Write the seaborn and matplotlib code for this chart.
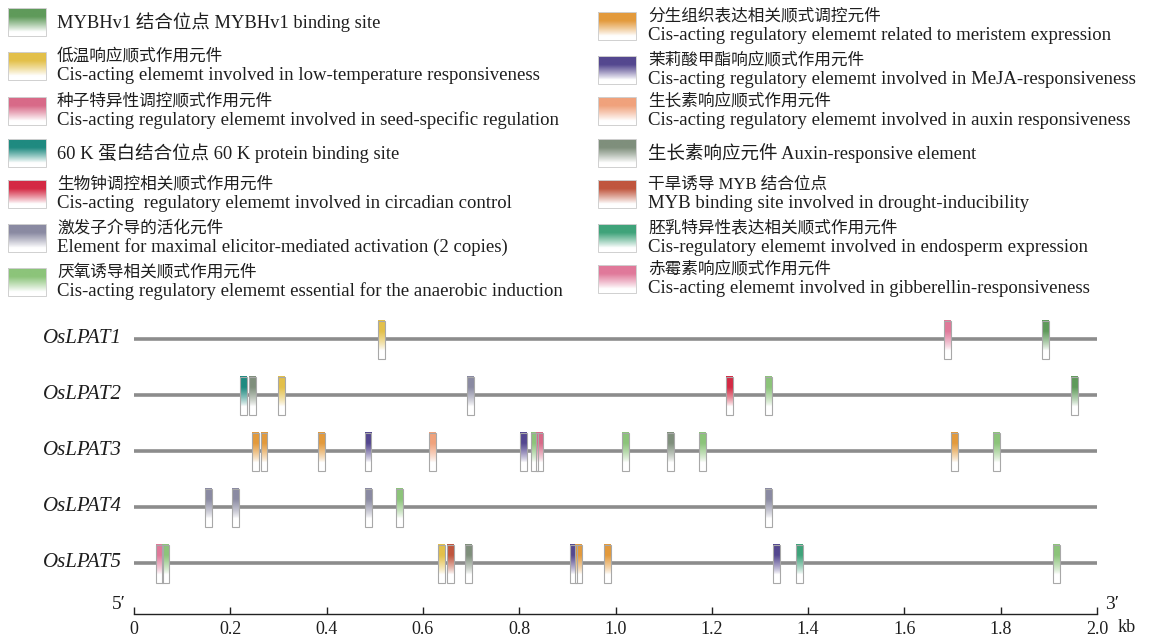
import numpy as np
import pandas as pd
import matplotlib
matplotlib.use("Agg")
import matplotlib.pyplot as plt
from matplotlib.colors import LinearSegmentedColormap
from matplotlib.patches import Rectangle
import seaborn as sns

# cis-element types (legend order: left column 0-6, right column 7-13)
element_cn = ["MYBHv1 结合位点", "低温响应顺式作用元件", "种子特异性调控顺式作用元件",
              "60 K 蛋白结合位点", "生物钟调控相关顺式作用元件", "激发子介导的活化元件",
              "厌氧诱导相关顺式作用元件", "分生组织表达相关顺式调控元件", "茉莉酸甲酯响应顺式作用元件",
              "生长素响应顺式作用元件", "生长素响应元件", "干旱诱导 MYB 结合位点",
              "胚乳特异性表达相关顺式作用元件", "赤霉素响应顺式作用元件"]
element_en = ["MYBHv1 binding site",
              "Cis-acting elememt involved in low-temperature responsiveness",
              "Cis-acting regulatory elememt involved in seed-specific regulation",
              "60 K protein binding site",
              "Cis-acting  regulatory elememt involved in circadian control",
              "Element for maximal elicitor-mediated activation (2 copies)",
              "Cis-acting regulatory elememt essential for the anaerobic induction",
              "Cis-acting regulatory elememt related to meristem expression",
              "Cis-acting regulatory elememt involved in MeJA-responsiveness",
              "Cis-acting regulatory elememt involved in auxin responsiveness",
              "Auxin-responsive element",
              "MYB binding site involved in drought-inducibility",
              "Cis-regulatory elememt involved in endosperm expression",
              "Cis-acting elememt involved in gibberellin-responsiveness"]
one_line = [True, False, False, True, False, False, False,
            False, False, False, True, False, False, False]
element_colors = ["#5f9a5a", "#e3c04a", "#d86a88", "#1f8a80", "#d42a44", "#8a8aa2",
                  "#8cc47a", "#e39a3c", "#54478f", "#f0a27c", "#7f8f7c", "#c0563e",
                  "#3fa37a", "#e0799a"]

genes = ["OsLPAT1", "OsLPAT2", "OsLPAT3", "OsLPAT4", "OsLPAT5"]
gene_len = 2.0  # kb

lpat1_pos = [0.515, 1.690, 1.894]
lpat1_type = [1, 13, 0]
lpat2_pos = [0.228, 0.247, 0.307, 0.698, 1.236, 1.317, 1.954]
lpat2_type = [3, 10, 1, 5, 4, 6, 0]
lpat3_pos = [0.253, 0.270, 0.390, 0.486, 0.620, 0.808, 0.831, 0.843,
             1.021, 1.115, 1.180, 1.705, 1.792]
lpat3_type = [7, 7, 7, 8, 9, 8, 6, 2, 6, 10, 6, 7, 6]
lpat4_pos = [0.154, 0.210, 0.488, 0.552, 1.317]
lpat4_type = [5, 5, 5, 6, 5]
lpat5_pos = [0.052, 0.066, 0.639, 0.658, 0.694, 0.912, 0.924, 0.984,
             1.334, 1.382, 1.915]
lpat5_type = [13, 6, 1, 11, 10, 8, 7, 7, 8, 12, 6]

site_pos = [lpat1_pos, lpat2_pos, lpat3_pos, lpat4_pos, lpat5_pos]
site_type = [lpat1_type, lpat2_type, lpat3_type, lpat4_type, lpat5_type]

sns.set_style("white")
plt.rcParams['font.family'] = ['Liberation Serif', 'Noto Sans CJK SC', 'DejaVu Serif']
text_color = "#1e1e1e"

W, H = 1160, 643
fig = plt.figure(figsize=(W / 100, H / 100), dpi=100)

# gradient: full colour at top, fading to white towards the bottom
t = np.linspace(0, 1, 60)
grad_bar = (np.clip((0.78 - t) / 0.5, 0, 1) ** 0.8)[:, None]
grad_sw = (np.clip((0.85 - t) / 0.55, 0, 1) ** 0.9)[:, None]
cmaps = [LinearSegmentedColormap.from_list("c%d" % i, ["white", c])
         for i, c in enumerate(element_colors)]

# ---- legend (pixel coordinates) ----
lax = fig.add_axes([0, 0, 1, 1])
lax.set_xlim(0, W)
lax.set_ylim(H, 0)
lax.axis("off")

left_y = [22, 66, 111, 153, 194, 238, 282]
right_y = [26, 70, 111, 153, 194, 238, 279]
for i in range(14):
    if i < 7:
        cy, sx, tx = left_y[i], 8, 57
    else:
        cy, sx, tx = right_y[i - 7], 598, 648
    lax.imshow(grad_sw, cmap=cmaps[i], vmin=0, vmax=1, aspect="auto",
               interpolation="bilinear", extent=(sx, sx + 38, cy + 14, cy - 14))
    lax.add_patch(Rectangle((sx, cy - 14), 38, 28, fill=False,
                            edgecolor="#d0d0d0", lw=0.7))
    if one_line[i]:
        txt = element_cn[i] + " " + element_en[i]
        lax.text(tx, cy, txt, fontsize=13.3, va="center", ha="left", color=text_color)
    else:
        lax.text(tx, cy - 9.5, element_cn[i], fontsize=12, va="center", ha="left",
                 color=text_color)
        lax.text(tx, cy + 9.5, element_en[i], fontsize=13.5, va="center", ha="left",
                 color=text_color)
lax.set_xlim(0, W)
lax.set_ylim(H, 0)

# ---- gene map ----
x0_px, x1_px, bot_px, top_px = 134, 1097, 614, 311
ax = fig.add_axes([x0_px / W, 1 - bot_px / H, (x1_px - x0_px) / W, (bot_px - top_px) / H])
ax.patch.set_alpha(0)

rows = [5 - i for i in range(len(genes))]
gene_df = pd.DataFrame({
    "gene": np.repeat(genes, 2),
    "kb": [0, gene_len] * len(genes),
    "row": np.repeat(rows, 2),
})
sns.lineplot(data=gene_df, x="kb", y="row", units="gene", estimator=None,
             color="#8c8c8c", lw=2.6, ax=ax, legend=False, zorder=2)

bw = 0.0145
for gi, g in enumerate(genes):
    r = rows[gi]
    for p, k in zip(site_pos[gi], site_type[gi]):
        ax.imshow(grad_bar, cmap=cmaps[k], vmin=0, vmax=1, aspect="auto",
                  interpolation="bilinear", zorder=3,
                  extent=(p - bw / 2, p + bw / 2, r - 0.36, r + 0.33))
        ax.add_patch(Rectangle((p - bw / 2, r - 0.36), bw, 0.69, fill=False,
                               edgecolor="#a8a8a8", lw=0.8, zorder=4))
    ax.text(-0.025, r, g, fontsize=15, style="italic", ha="right", va="center",
            color=text_color)

ax.set_xlim(0, gene_len)
ax.set_ylim(0.089, 5.5)
ax.set_xlabel("")
ax.set_ylabel("")
ax.set_yticks([])
ticks = np.round(np.arange(0, 2.01, 0.2), 1)
ax.set_xticks(ticks)
ax.set_xticklabels(["0"] + ["%.1f" % v for v in ticks[1:]], fontsize=13, color=text_color)
ax.tick_params(axis="x", direction="in", length=5, width=1, color="#222222", pad=5,
               bottom=True)
sns.despine(ax=ax, left=True)
ax.spines["bottom"].set_color("#222222")
ax.spines["bottom"].set_linewidth(1)

tr = ax.get_xaxis_transform()
ax.text(-0.031, 0.03, "5′", transform=tr, fontsize=14, ha="center", va="center",
        color=text_color)
ax.text(2.032, 0.03, "3′", transform=tr, fontsize=14, ha="center", va="center",
        color=text_color)
ax.text(2.042, -0.017, "kb", transform=tr, fontsize=13, ha="left", va="top",
        color=text_color)

fig.savefig("out.png", dpi=100)
